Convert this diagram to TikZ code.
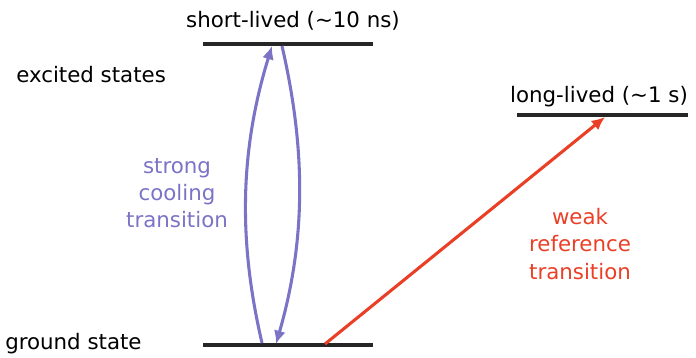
\documentclass[tikz,border=0pt]{standalone}
\usepackage{fontspec}
\setmainfont{DejaVu Sans}
\usepackage{tikz}
\usetikzlibrary{arrows.meta, positioning}
\definecolor{coolpurple}{HTML}{7B73C6}
\definecolor{weakred}{HTML}{EA3F26}

\begin{document}
\begin{tikzpicture}[
  x=0.75pt, y=-0.75pt,
  level/.style = {line width=3pt, black!85},
  txt/.style = {font=\fontsize{16}{20.3}\selectfont, inner sep=0pt, align=center},
  arrow/.style = {line width=2.3pt, -{Latex[length=10pt,width=9pt]}}
]
\useasboundingbox (0,0) rectangle (696,357);
% energy levels
\coordinate (shortL) at (203,44);  \coordinate (shortR) at (373,44);
\coordinate (longL)  at (517,115); \coordinate (longR)  at (688,115);
\coordinate (groundL) at (203,345); \coordinate (groundR) at (373,345);
\draw[level] (shortL) -- (shortR);
\draw[level] (longL) -- (longR);
\draw[level] (groundL) -- (groundR);
% labels
\node[txt] (short) at (293,21) {short-lived (∼10 ns)};
\node[txt] (long) at (599,97) {long-lived (∼1 s)};
\node[txt, anchor=west] (excited) at (16,75) {excited states};
\node[txt, anchor=west] (ground) at (5,344) {ground state};
\node[txt, text=coolpurple] (cool) at (177,193) {strong\\cooling\\transition};
\node[txt, text=weakred] (weak) at (580,244) {weak\\reference\\transition};
% transitions
\coordinate (upS) at (262,343);  \coordinate (upE) at (272,46);
\coordinate (dnS) at (282,46);   \coordinate (dnE) at (276,344);
\coordinate (wkS) at (325,344);  \coordinate (wkE) at (605,117);
\draw[arrow, coolpurple] (upS) .. controls (238,240) and (240,150) .. (upE);
\draw[arrow, coolpurple] (dnS) .. controls (306,150) and (306,240) .. (dnE);
\draw[arrow, weakred] (wkS) -- (wkE);
\end{tikzpicture}
\end{document}
